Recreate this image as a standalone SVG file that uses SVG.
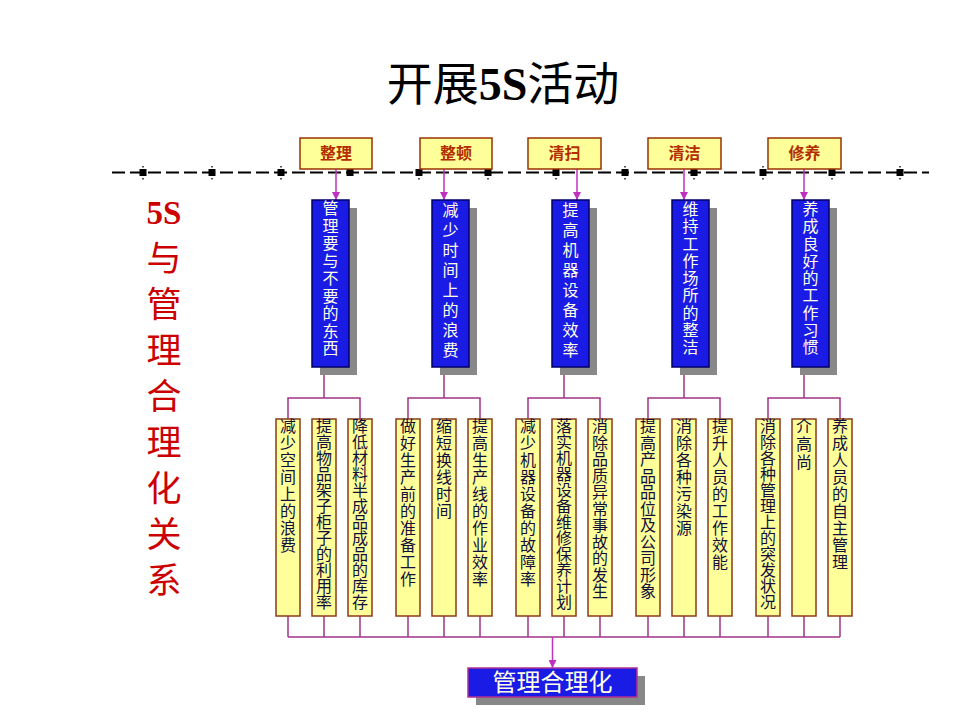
<svg xmlns="http://www.w3.org/2000/svg" width="960" height="720" viewBox="0 0 960 720">
<style>
.cjk{font-family:"Noto Sans CJK SC","Noto Sans",sans-serif}
.hdr rect{fill:#FFFF99;stroke:#993300;stroke-width:1.5}
.hdr text{font-family:"Noto Sans CJK SC",sans-serif;font-size:16px;font-weight:bold;fill:#B32D00;text-anchor:middle}
.blue .shadow{fill:#888888}
.blue .box{fill:#1B1BE6;stroke:#000066;stroke-width:1.5}
.blue text{font-family:"Noto Sans CJK SC",sans-serif;font-size:16px;fill:#FFFFE6;text-anchor:middle}
.yel rect{fill:#FFFF99;stroke:#8B3A1A;stroke-width:1.5}
.yel text{font-family:"Noto Sans CJK SC",sans-serif;font-size:16px;fill:#10103A;text-anchor:middle}
.arr{stroke:#C030C0;stroke-width:1.5;fill:none}
.ln{stroke:#A03488;stroke-width:1.5;fill:none}
.mk{fill:#000000}
.dot{fill:#555555}
</style>
<defs>
<marker id="ah" markerWidth="8" markerHeight="8" refX="8" refY="4" orient="auto" markerUnits="userSpaceOnUse">
<path d="M0,0 L8,4 L0,8 z" fill="#C030C0"/>
</marker>
</defs>
<rect x="0" y="0" width="960" height="720" fill="#FFFFFF"/>

<g id="title">
<text x="503" y="100" text-anchor="middle" font-size="46" fill="#000000"><tspan class="cjk">开展</tspan><tspan font-family="Liberation Serif,serif" font-weight="bold">5S</tspan><tspan class="cjk">活动</tspan></text>
</g>

<g id="side-label" fill="#CC0000">
<text x="164" y="224" text-anchor="middle" font-family="Liberation Serif,serif" font-weight="bold" font-size="33">5S</text>
<text class="cjk" text-anchor="middle" font-size="35" x="164 164 164 164 164 164 164 164" y="271 317 363 409 455 501 547 593">与管理合理化关系</text>
</g>

<g id="timeline">
<line x1="112" y1="172.5" x2="929" y2="172.5" stroke="#000000" stroke-width="2" stroke-dasharray="13 5"/>
<rect class="mk" x="139.5" y="169" width="7" height="7"/>
<rect class="mk" x="208.5" y="169" width="7" height="7"/>
<rect class="mk" x="277.5" y="169" width="7" height="7"/>
<rect class="mk" x="346.5" y="169" width="7" height="7"/>
<rect class="mk" x="415.5" y="169" width="7" height="7"/>
<rect class="mk" x="484.5" y="169" width="7" height="7"/>
<rect class="mk" x="552.5" y="169" width="7" height="7"/>
<rect class="mk" x="621.5" y="169" width="7" height="7"/>
<rect class="mk" x="690.5" y="169" width="7" height="7"/>
<rect class="mk" x="759.5" y="169" width="7" height="7"/>
<rect class="mk" x="828.5" y="169" width="7" height="7"/>
<rect class="mk" x="896.5" y="169" width="7" height="7"/>
<rect class="dot" x="142" y="166" width="2" height="1.5"/><rect class="dot" x="142" y="178" width="2" height="1.5"/>
<rect class="dot" x="211" y="166" width="2" height="1.5"/><rect class="dot" x="211" y="178" width="2" height="1.5"/>
<rect class="dot" x="280" y="166" width="2" height="1.5"/><rect class="dot" x="280" y="178" width="2" height="1.5"/>
<rect class="dot" x="418" y="178" width="2" height="1.5"/>
<rect class="dot" x="487" y="166" width="2" height="1.5"/><rect class="dot" x="487" y="178" width="2" height="1.5"/>
<rect class="dot" x="555" y="178" width="2" height="1.5"/>
<rect class="dot" x="624" y="166" width="2" height="1.5"/><rect class="dot" x="624" y="178" width="2" height="1.5"/>
<rect class="dot" x="693" y="178" width="2" height="1.5"/>
<rect class="dot" x="762" y="166" width="2" height="1.5"/><rect class="dot" x="762" y="178" width="2" height="1.5"/>
<rect class="dot" x="831" y="178" width="2" height="1.5"/>
<rect class="dot" x="899" y="166" width="2" height="1.5"/><rect class="dot" x="899" y="178" width="2" height="1.5"/>
</g>

<g id="connectors">
<line class="arr" x1="336" y1="169" x2="336" y2="200" marker-end="url(#ah)"/>
<line class="arr" x1="444" y1="169" x2="444" y2="200" marker-end="url(#ah)"/>
<line class="arr" x1="577" y1="169" x2="577" y2="200" marker-end="url(#ah)"/>
<line class="arr" x1="684" y1="169" x2="684" y2="200" marker-end="url(#ah)"/>
<line class="arr" x1="804" y1="169" x2="804" y2="200" marker-end="url(#ah)"/>
<path class="ln" d="M324,367 V398 M288,419 V398 H360 V419"/>
<path class="ln" d="M444,367 V398 M408,419 V398 H480 V419"/>
<path class="ln" d="M564,367 V398 M528,419 V398 H600 V419"/>
<path class="ln" d="M684,367 V398 M648,419 V398 H720 V419"/>
<path class="ln" d="M804,367 V398 M768,419 V398 H840 V419"/>
<path class="ln" d="M288,616 V637 M324,616 V637 M360,616 V637 M408,616 V637 M444,616 V637 M480,616 V637 M528,616 V637 M564,616 V637 M600,616 V637 M648,616 V637 M684,616 V637 M720,616 V637 M768,616 V637 M804,616 V637 M840,616 V637 M288,637 H840"/>
<line class="arr" x1="552.5" y1="637" x2="552.5" y2="668" marker-end="url(#ah)"/>
</g>

<g id="h-zhengli" class="hdr"><rect x="300" y="138" width="72" height="31"/><text x="336" y="159">整理</text></g>
<g id="h-zhengdun" class="hdr"><rect x="420" y="138" width="72" height="31"/><text x="456" y="159">整顿</text></g>
<g id="h-qingsao" class="hdr"><rect x="528" y="138" width="73" height="31"/><text x="564.5" y="159">清扫</text></g>
<g id="h-qingjie" class="hdr"><rect x="648" y="138" width="73" height="31"/><text x="684.5" y="159">清洁</text></g>
<g id="h-xiuyang" class="hdr"><rect x="768" y="138" width="73" height="31"/><text x="804.5" y="159">修养</text></g>

<g id="b1" class="blue"><rect class="shadow" x="320" y="208" width="37" height="167"/><rect class="box" x="312" y="200" width="37" height="167"/>
<text x="330.5 330.5 330.5 330.5 330.5 330.5 330.5 330.5 330.5" y="214 231.5 249 266.5 284 301.5 319 336.5 354">管理要与不要的东西</text></g>
<g id="b2" class="blue"><rect class="shadow" x="440" y="208" width="37" height="167"/><rect class="box" x="432" y="200" width="37" height="167"/>
<text x="450.5 450.5 450.5 450.5 450.5 450.5 450.5 450.5" y="216 236 256 276 296 316 336 356">减少时间上的浪费</text></g>
<g id="b3" class="blue"><rect class="shadow" x="560" y="208" width="37" height="167"/><rect class="box" x="552" y="200" width="37" height="167"/>
<text x="570.5 570.5 570.5 570.5 570.5 570.5 570.5 570.5" y="216 236 256 276 296 316 336 356">提高机器设备效率</text></g>
<g id="b4" class="blue"><rect class="shadow" x="680" y="208" width="37" height="167"/><rect class="box" x="672" y="200" width="37" height="167"/>
<text x="690.5 690.5 690.5 690.5 690.5 690.5 690.5 690.5 690.5" y="215 232.25 249.5 266.75 284 301.25 318.5 335.75 353">维持工作场所的整洁</text></g>
<g id="b5" class="blue"><rect class="shadow" x="800" y="208" width="37" height="167"/><rect class="box" x="792" y="200" width="37" height="167"/>
<text x="810.5 810.5 810.5 810.5 810.5 810.5 810.5 810.5 810.5" y="215 232.25 249.5 266.75 284 301.25 318.5 335.75 353">养成良好的工作习惯</text></g>

<g id="y1" class="yel"><rect x="276" y="419" width="24" height="197"/><text x="288 288 288 288 288 288 288 288" y="432 449 466 483 500 517 534 551">减少空间上的浪费</text></g>
<g id="y2" class="yel"><rect x="312" y="419" width="24" height="197"/><text x="324 324 324 324 324 324 324 324 324 324 324 324" y="432 448 464 480 496 512 528 544 560 576 592 608">提高物品架子柜子的利用率</text></g>
<g id="y3" class="yel"><rect x="348" y="419" width="24" height="197"/><text x="360 360 360 360 360 360 360 360 360 360 360 360" y="432 448 464 480 496 512 528 544 560 576 592 608">降低材料半成品成品的库存</text></g>
<g id="y4" class="yel"><rect x="396" y="419" width="24" height="197"/><text x="408 408 408 408 408 408 408 408 408 408" y="432 449 466 483 500 517 534 551 568 585">做好生产前的准备工作</text></g>
<g id="y5" class="yel"><rect x="432" y="419" width="24" height="197"/><text x="444 444 444 444 444 444" y="432 449 466 483 500 517">缩短换线时间</text></g>
<g id="y6" class="yel"><rect x="468" y="419" width="24" height="197"/><text x="480 480 480 480 480 480 480 480 480 480" y="432 449 466 483 500 517 534 551 568 585">提高生产线的作业效率</text></g>
<g id="y7" class="yel"><rect x="516" y="419" width="24" height="197"/><text x="528 528 528 528 528 528 528 528 528 528" y="432 449 466 483 500 517 534 551 568 585">减少机器设备的故障率</text></g>
<g id="y8" class="yel"><rect x="552" y="419" width="24" height="197"/><text x="564 564 564 564 564 564 564 564 564 564 564 564" y="432 448 464 480 496 512 528 544 560 576 592 608">落实机器设备维修保养计划</text></g>
<g id="y9" class="yel"><rect x="588" y="419" width="24" height="197"/><text x="600 600 600 600 600 600 600 600 600 600 600" y="432 448.5 465 481.5 498 514.5 531 547.5 564 580.5 597">消除品质异常事故的发生</text></g>
<g id="y10" class="yel"><rect x="636" y="419" width="24" height="197"/><text x="648 648 648 648 648 648 648 648 648 648 648" y="432 448.5 465 481.5 498 514.5 531 547.5 564 580.5 597">提高产品品位及公司形象</text></g>
<g id="y11" class="yel"><rect x="672" y="419" width="24" height="197"/><text x="684 684 684 684 684 684 684" y="432 449 466 483 500 517 534">消除各种污染源</text></g>
<g id="y12" class="yel"><rect x="708" y="419" width="24" height="197"/><text x="720 720 720 720 720 720 720 720 720" y="432 449 466 483 500 517 534 551 568">提升人员的工作效能</text></g>
<g id="y13" class="yel"><rect x="756" y="419" width="24" height="197"/><text x="768 768 768 768 768 768 768 768 768 768 768 768" y="432 448 464 480 496 512 528 544 560 576 592 608">消除各种管理上的突发状况</text></g>
<g id="y14" class="yel"><rect x="792" y="419" width="24" height="197"/><text x="804 804 804" y="432 450 468">介高尚</text></g>
<g id="y15" class="yel"><rect x="828" y="419" width="24" height="197"/><text x="840 840 840 840 840 840 840 840 840" y="432 449 466 483 500 517 534 551 568">养成人员的自主管理</text></g>

<g id="result">
<rect x="476" y="676" width="169" height="29" fill="#888888"/>
<rect x="468" y="668" width="169" height="29" fill="#1B1BE6" stroke="#B03090" stroke-width="1.5"/>
<text x="552.5" y="691" text-anchor="middle" font-family="Noto Sans CJK SC,sans-serif" font-size="24" fill="#FFFFE6">管理合理化</text>
</g>
</svg>
